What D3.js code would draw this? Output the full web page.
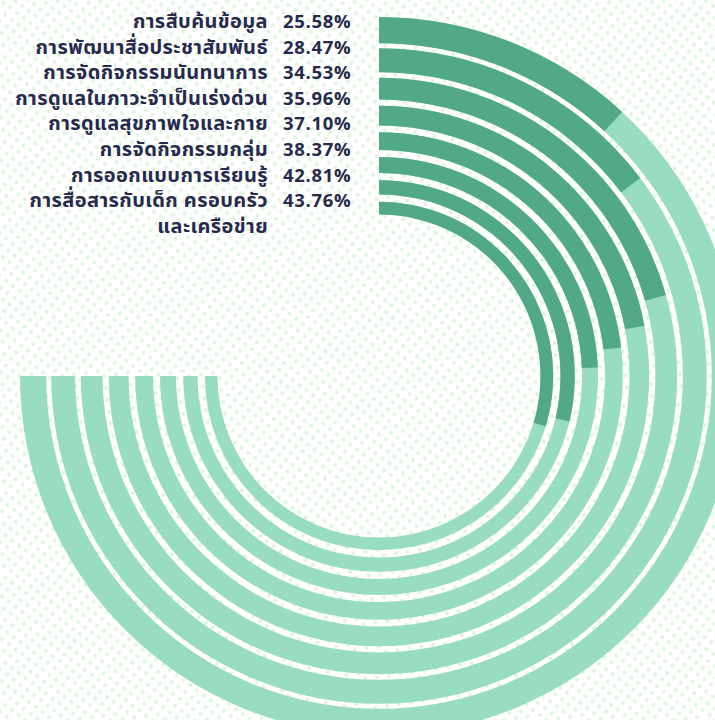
<!DOCTYPE html>
<html>
<head>
<meta charset="utf-8">
<script src="https://cdn.jsdelivr.net/npm/d3@7"></script>
<style>
  body { margin: 0; background: #fff; }
  svg text { font-family: "Noto Sans Thai", "Noto Sans Thai UI", "Noto Sans", sans-serif; font-weight: 700; fill: #262a4d; }
</style>
</head>
<body>
<div id="chart"></div>
<script>
// topics, outermost ring first
var labels = [
  "การสืบค้นข้อมูล",
  "การพัฒนาสื่อประชาสัมพันธ์",
  "การจัดกิจกรรมนันทนาการ",
  "การดูแลในภาวะจำเป็นเร่งด่วน",
  "การดูแลสุขภาพใจและกาย",
  "การจัดกิจกรรมกลุ่ม",
  "การออกแบบการเรียนรู้",
  "การสื่อสารกับเด็ก ครอบครัว\nและเครือข่าย"
];
var values = [25.58, 28.47, 34.53, 35.96, 37.10, 38.37, 42.81, 43.76];

var width = 715, height = 720;
var cx = 379, cy = 376;

var svg = d3.select("#chart")
  .append("svg")
    .attr("width", width)
    .attr("height", height);

// dotted background
var pat = svg.append("defs").append("pattern")
  .attr("id", "dots")
  .attr("width", 12)
  .attr("height", 12)
  .attr("patternUnits", "userSpaceOnUse")
  .attr("patternTransform", "rotate(-8)");
pat.append("circle").attr("cx", 3).attr("cy", 3).attr("r", 2).attr("fill", "#e0f4df");
pat.append("circle").attr("cx", 9).attr("cy", 9).attr("r", 2).attr("fill", "#e0f4df");

svg.append("rect")
  .attr("width", width)
  .attr("height", height)
  .attr("fill", "url(#dots)");

// value -> angle, track covers 3/4 of a turn
var angle = d3.scaleLinear()
  .domain([13.5, 90])
  .range([0, 1.5 * Math.PI]);

// ring spacing tightens toward the centre
function rOuter(i) { return 359 - 32 * i + 0.8 * i * i; }
function rInner(i) { return rOuter(i) * (1 - 0.073); }

var arc = d3.arc()
  .innerRadius(function(d, i) { return rInner(i); })
  .outerRadius(function(d, i) { return rOuter(i); })
  .startAngle(0);

var g = svg.append("g")
  .attr("transform", "translate(" + cx + "," + cy + ")");

g.selectAll(".track")
  .data(values)
  .join("path")
    .attr("class", "track")
    .attr("fill", "#98ddc0")
    .attr("d", function(d, i) { return arc.endAngle(angle.range()[1])(d, i); });

g.selectAll(".bar")
  .data(values)
  .join("path")
    .attr("class", "bar")
    .attr("fill", "#52a987")
    .attr("d", function(d, i) { return arc.endAngle(angle(d))(d, i); });

// legend list
var rowH = 25.6, firstY = 28;
var fmt = d3.format(".2f");

labels.forEach(function(lab, i) {
  var lines = lab.split("\n");
  lines.forEach(function(line, j) {
    svg.append("text")
      .attr("x", 268)
      .attr("y", firstY + (i + j) * rowH)
      .attr("text-anchor", "end")
      .attr("font-size", 20)
      .attr("letter-spacing", 0.4)
      .text(line);
  });
  svg.append("text")
    .attr("x", 283)
    .attr("y", firstY + i * rowH)
    .attr("font-size", 18.5)
    .attr("letter-spacing", 0.7)
    .text(fmt(values[i]) + "%");
});
</script>
</body>
</html>
